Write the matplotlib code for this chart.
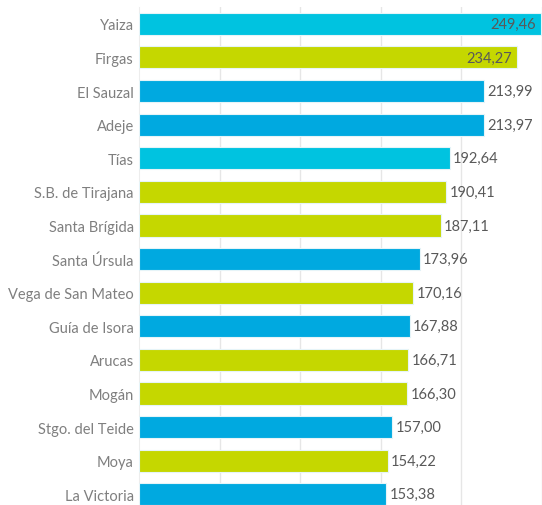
import matplotlib
matplotlib.use("Agg")
import matplotlib.pyplot as plt

categories = ["Yaiza", "Firgas", "El Sauzal", "Adeje", "Tías", "S.B. de Tirajana",
              "Santa Brígida", "Santa Úrsula", "Vega de San Mateo", "Guía de Isora",
              "Arucas", "Mogán", "Stgo. del Teide", "Moya", "La Victoria"]
values = [249.46, 234.27, 213.99, 213.97, 192.64, 190.41, 187.11, 173.96, 170.16,
          167.88, 166.71, 166.30, 157.00, 154.22, 153.38]
groups = ["L", "G", "T", "T", "L", "G", "G", "T", "G", "T", "G", "G", "T", "G", "T"]
group_colors = {"L": "#00C3E0", "G": "#C5D700", "T": "#00A9E0"}
label_inside = [True, True] + [False] * 13

plt.rcParams['font.family'] = ['Lato', 'DejaVu Sans']

W, H = 542, 506
fig = plt.figure(figsize=(W / 100, H / 100), dpi=100)
left = 139.3 / W
top_px = 8
ax = fig.add_axes([left, 0, 1 - left, (H - top_px) / H])

ys = list(range(len(categories)))
colors = [group_colors[g] for g in groups]
ax.barh(ys, values, height=0.66, color=colors, edgecolor="#E6F4F8", linewidth=0.8, zorder=3)

ax.set_xlim(0, 247.6)
ax.set_ylim(14.32, -0.5)
ax.set_xticks([50, 100, 150, 200, 250])
ax.xaxis.grid(True, color="#E6E6E6", linewidth=1, zorder=0)
ax.tick_params(axis="x", length=0, labelbottom=False)
ax.set_yticks(ys)
ax.set_yticklabels(categories, fontsize=10.5, color="#7F7F7F")
ax.tick_params(axis="y", length=0, pad=4)
for s in ["top", "right", "bottom"]:
    ax.spines[s].set_visible(False)
ax.spines["left"].set_color("#EDEDED")

for y, v, inside in zip(ys, values, label_inside):
    txt = f"{v:.2f}".replace(".", ",")
    if inside:
        ax.annotate(txt, (v, y), xytext=(-3.5, 0), textcoords="offset points",
                    ha="right", va="center", fontsize=10.5, color="#595959", zorder=4)
    else:
        ax.annotate(txt, (v, y), xytext=(2.5, 0), textcoords="offset points",
                    ha="left", va="center", fontsize=10.5, color="#595959", zorder=4)

fig.savefig("out.png", dpi=100)
